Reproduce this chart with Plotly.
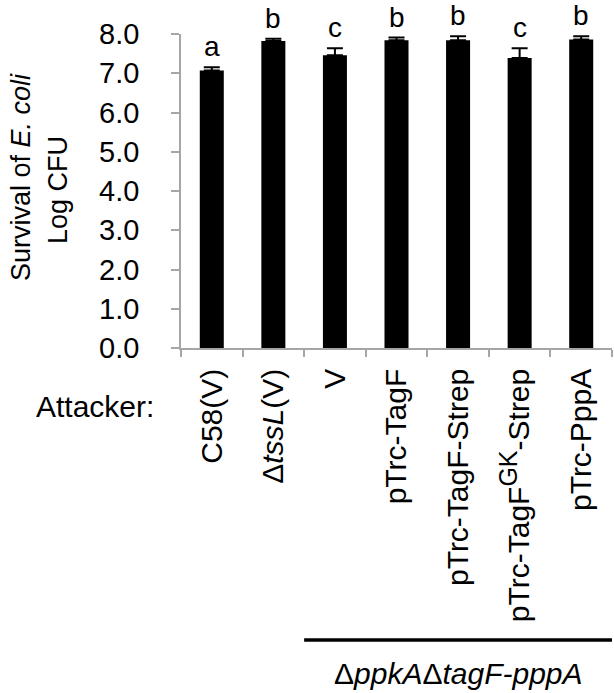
import plotly.graph_objects as go

categories = ["C58(V)", "Δ<i>tssL</i>(V)", "V", "pTrc-TagF", "pTrc-TagF-Strep",
              "pTrc-TagF<sup><span style=\"font-size:25px\">GK</span></sup>-Strep", "pTrc-PppA"]
values = [7.07, 7.82, 7.46, 7.84, 7.84, 7.39, 7.86]
errors = [0.08, 0.06, 0.18, 0.07, 0.10, 0.25, 0.08]
letters = ["a", "b", "c", "b", "b", "c", "b"]
y_ticks = [0, 1, 2, 3, 4, 5, 6, 7, 8]
y_ticktext = ["%.1f" % v for v in y_ticks]

FONT = "Arial, Liberation Sans, sans-serif"
W, H = 614, 693
L, R, T, B = 181, 2, 34, 345
ph = H - T - B
pw = W - L - R

def py(ypix):
    return 1 - (ypix - T) / ph

def px(xpix):
    return (xpix - L) / pw

fig = go.Figure()
fig.add_trace(go.Bar(
    x=categories, y=values,
    marker=dict(color="black", line=dict(width=0)),
    width=0.39,
    error_y=dict(type="data", array=errors, symmetric=False, arrayminus=[0]*len(errors),
                 color="black", thickness=2, width=8),
    cliponaxis=False,
    hoverinfo="skip",
))

annotations = []
for c, v, e, t in zip(categories, values, errors, letters):
    annotations.append(dict(x=c, y=v + e, xref="x", yref="y", text=t, showarrow=False,
                            yanchor="bottom", xanchor="center", yshift=3,
                            font=dict(family=FONT, size=28, color="black")))

annotations += [
    dict(xref="paper", yref="paper", x=px(21), y=py(177), text="Survival of <i>E. coli</i>",
         textangle=-90, showarrow=False, xanchor="center", yanchor="middle",
         font=dict(family=FONT, size=27, color="black")),
    dict(xref="paper", yref="paper", x=px(58), y=py(190), text="Log CFU",
         textangle=-90, showarrow=False, xanchor="center", yanchor="middle",
         font=dict(family=FONT, size=27, color="black")),
    dict(xref="paper", yref="paper", x=px(156), y=py(406), text="Attacker:",
         showarrow=False, xanchor="right", yanchor="middle",
         font=dict(family=FONT, size=30, color="black")),
    dict(xref="x", yref="paper", x=4, y=py(692), text="Δ<i>ppkA</i>Δ<i>tagF-pppA</i>",
         showarrow=False, xanchor="center", yanchor="bottom",
         font=dict(family=FONT, size=30, color="black")),
]

fig.add_shape(type="line", xref="x", yref="paper", x0=1.5, x1=6.6, y0=py(640), y1=py(640),
              line=dict(color="black", width=3.5))

fig.update_layout(
    width=W, height=H,
    margin=dict(l=L, r=R, t=T, b=B, pad=0),
    paper_bgcolor="white", plot_bgcolor="white",
    showlegend=False,
    annotations=annotations,
    bargap=0.61,
)
fig.update_xaxes(
    type="category", tickson="boundaries", ticks="outside", ticklen=7, tickcolor="#a6a6a6",
    tickwidth=1.5, showline=True, linecolor="#a6a6a6", linewidth=1.5, showgrid=False,
    tickangle=-90, tickfont=dict(family=FONT, size=30, color="black"),
    ticklabelstandoff=7, range=[-0.5, 6.5],
)
fig.update_yaxes(
    range=[0, 8], tickvals=y_ticks, ticktext=y_ticktext, ticks="outside", ticklen=8,
    tickcolor="#a6a6a6", tickwidth=1.5, showline=True, linecolor="#a6a6a6", linewidth=1.5,
    showgrid=False, zeroline=False, tickfont=dict(family=FONT, size=29, color="black"),
    ticklabelstandoff=26,
)

fig.write_html("out.html", config={"displayModeBar": False},
               post_script="document.body.style.margin='0px';document.body.style.overflow='hidden';")
